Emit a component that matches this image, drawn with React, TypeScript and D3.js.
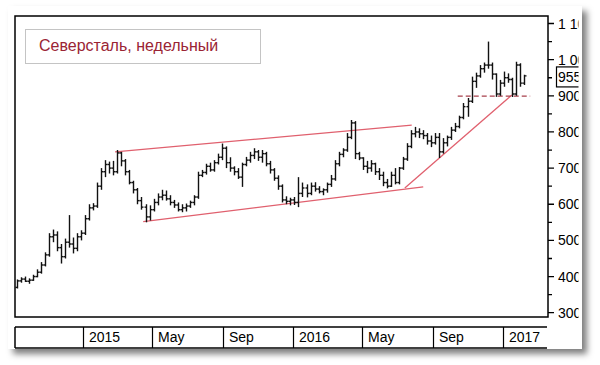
import React from "react";
import * as d3 from "d3";

// Weekly OHLC (Severstal, weekly)
const opens = [370,388,393,387,390,400,412,432,460,510,515,480,455,495,490,478,510,520,560,590,595,650,690,710,700,690,742,720,690,660,640,610,592,565,585,605,620,625,615,605,598,585,590,595,605,620,680,688,705,695,715,730,755,715,700,690,675,710,722,735,745,730,740,712,695,672,650,612,608,612,605,630,645,630,650,642,635,640,655,670,712,738,750,785,825,740,728,705,700,712,690,680,660,650,680,660,700,725,760,795,800,795,790,775,770,785,745,770,785,805,815,840,870,885,940,955,975,985,985,960,905,935,950,945,905,985,935];
const highs = [392,398,400,395,405,420,440,467,520,530,525,490,505,570,508,520,528,570,600,603,660,700,722,718,720,750,745,725,695,665,645,620,600,597,615,630,640,638,625,612,605,600,602,610,625,690,695,712,715,722,740,768,760,730,705,700,715,731,745,755,750,750,745,720,700,680,655,622,618,620,675,660,655,660,661,650,644,660,681,722,745,755,797,833,830,745,730,720,722,715,700,690,670,690,700,703,731,769,805,814,810,805,797,790,797,797,783,790,814,825,845,880,894,953,964,985,992,1050,992,962,944,967,962,950,994,990,958];
const lows = [367,383,385,380,388,398,408,428,455,495,470,436,450,480,464,470,500,515,555,583,590,640,675,685,680,685,705,680,655,630,600,585,550,555,580,597,611,610,597,590,580,578,580,590,597,615,675,682,690,690,710,722,700,690,680,670,648,705,715,725,720,715,705,685,665,640,605,600,597,598,592,620,619,625,635,630,625,632,648,665,705,730,745,780,725,722,695,686,690,681,667,650,644,648,655,655,695,720,755,785,783,780,765,758,765,728,740,760,778,800,810,835,842,880,922,950,964,975,945,897,900,925,936,897,900,925,930];
const closes = [388,393,387,390,400,412,432,460,510,515,480,455,495,490,478,510,520,560,590,595,650,690,710,700,690,742,720,690,660,640,610,592,565,585,605,620,625,615,605,598,585,590,595,605,620,680,688,705,695,715,730,755,715,700,690,675,710,722,735,745,730,740,712,695,672,650,612,608,612,605,630,645,630,650,642,635,640,655,670,712,738,750,785,825,740,728,705,700,712,690,680,660,650,680,660,700,725,760,795,800,795,790,775,770,785,745,770,785,805,815,840,870,885,940,955,975,985,985,960,905,935,950,945,905,985,935,955];
const firstWeek = "2014-09-08";

// Axes
const yTicksMajor = [300, 400, 500, 600, 700, 800, 900, 1000, 1100];
const yTickLabels = ["300", "400", "500", "600", "700", "800", "900", "1 000", "1 100"];
const yTicksMinor = [350, 450, 550, 650, 750, 850, 950, 1050];
const xTickDates = ["2015-01-01", "2015-05-01", "2015-09-01", "2016-01-01", "2016-05-01", "2016-09-01", "2017-01-01"];
const xTickLabels = ["2015", "May", "Sep", "2016", "May", "Sep", "2017"];
const lastValue = 955;
const title = "Северсталь, недельный";

// Trend lines (date, value) pairs
const channelTop = [["2015-02-26", 745], ["2016-07-26", 819]];
const channelBottom = [["2015-04-16", 552], ["2016-08-15", 648]];
const upTrend = [["2016-07-14", 645], ["2017-01-16", 902]];
const support = [["2016-10-14", 899], ["2017-02-17", 899]];

const parse = (s: string) => new Date(s + "T00:00:00Z");

export default function App() {
  const W = 600, H = 365;
  const left = 15, right = 548, top = 16, bottom = 317;
  const x = d3.scaleUtc().domain([parse("2014-09-05"), parse("2017-03-20")]).range([left, right]);
  const y = d3.scaleLinear().domain([300, 1100]).range([312.7, 23.5]);
  const start = parse(firstWeek);
  const dates = closes.map((_, i) => d3.utcDay.offset(start, 7 * i));
  const font = "'Liberation Sans', Arial, sans-serif";
  const red = "#e0606e";
  const line = (pts: (string | number)[][]) =>
    d3.line<(string | number)[]>()
      .x((p) => x(parse(p[0] as string)))
      .y((p) => y(p[1] as number))(pts) || "";

  const bandTop = 327, bandBottom = 348;
  const tk = 2;

  return (
    <svg width={W} height={H} style={{ position: "absolute", left: 0, top: 0, background: "#fff" }}>
      <defs>
        <filter id="sh" x="-5%" y="-5%" width="115%" height="120%">
          <feDropShadow dx="5" dy="5" stdDeviation="3" floodColor="#000" floodOpacity="0.5" />
        </filter>
        <clipPath id="panel">
          <rect x={0} y={0} width={578.5} height={349} />
        </clipPath>
      </defs>
      <rect x={0} y={0} width={W} height={H} fill="#fff" />
      <rect x={8} y={6} width={574} height={343} fill="#fff" filter="url(#sh)" />
      <g clipPath="url(#panel)">
        {/* trend lines */}
        <path d={line(channelTop)} stroke={red} strokeWidth={1.3} fill="none" />
        <path d={line(channelBottom)} stroke={red} strokeWidth={1.3} fill="none" />
        <path d={line(upTrend)} stroke={red} strokeWidth={1.3} fill="none" />
        <path d={line(support)} stroke="#a8404c" strokeWidth={1.3} strokeDasharray="5,3" fill="none" />

        {/* OHLC bars */}
        <g stroke="#111" strokeWidth={1.4} fill="none">
          {dates.map((d, i) => {
            const cx = Math.round(x(d)) + 0.5;
            return (
              <g key={i}>
                <line x1={cx} x2={cx} y1={y(highs[i])} y2={y(lows[i])} />
                <line x1={cx - tk} x2={cx} y1={y(opens[i])} y2={y(opens[i])} />
                <line x1={cx} x2={cx + tk} y1={y(closes[i])} y2={y(closes[i])} />
              </g>
            );
          })}
        </g>

        {/* frame */}
        <rect x={left} y={top} width={right - left} height={bottom - top} fill="none" stroke="#000" strokeWidth={1.5} />

        {/* right axis */}
        {yTicksMajor.map((v, i) => (
          <g key={"M" + v}>
            <line x1={right} x2={right + 6} y1={y(v)} y2={y(v)} stroke="#000" strokeWidth={1.3} />
            <text x={558} y={y(v)} dy="0.36em" fontFamily={font} fontSize={14} fill="#000">{yTickLabels[i]}</text>
          </g>
        ))}
        {yTicksMinor.map((v) => (
          <line key={"m" + v} x1={right} x2={right + 4} y1={y(v)} y2={y(v)} stroke="#000" strokeWidth={1.3} />
        ))}
        <rect x={556.5} y={y(lastValue) - 9} width={40} height={20} fill="#fff" stroke="#000" strokeWidth={1.2} />
        <text x={558} y={y(lastValue) + 1} dy="0.36em" fontFamily={font} fontSize={14} fill="#000">{lastValue}</text>

        {/* bottom date band */}
        <line x1={left} x2={547} y1={bandTop} y2={bandTop} stroke="#000" strokeWidth={1.5} />
        <line x1={left} x2={547} y1={bandBottom} y2={bandBottom} stroke="#000" strokeWidth={1.5} />
        <line x1={left} x2={left} y1={bandTop} y2={bandBottom} stroke="#000" strokeWidth={1.5} />
        {xTickDates.map((s, i) => {
          const px = Math.round(x(parse(s))) + 0.5;
          return (
            <g key={s + i}>
              <line x1={px} x2={px} y1={bandTop} y2={bandBottom} stroke="#000" strokeWidth={1.2} />
              <text x={px + 5.5} y={342} fontFamily={font} fontSize={14} fill="#000">{xTickLabels[i]}</text>
            </g>
          );
        })}

        {/* title box */}
        <rect x={25.5} y={29.5} width={235} height={34} fill="#fff" stroke="#c4c4c4" strokeWidth={1} />
        <text x={39} y={51} fontFamily={font} fontSize={16} fill="#9a2434">{title}</text>
      </g>
    </svg>
  );
}
